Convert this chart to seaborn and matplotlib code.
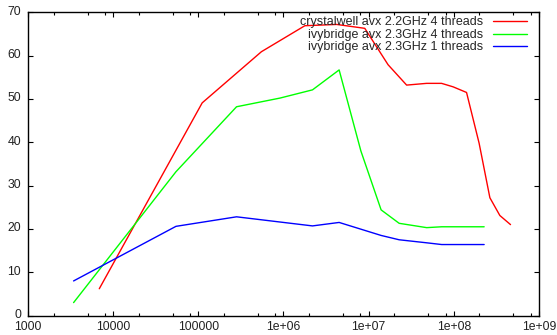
import matplotlib
matplotlib.use("Agg")
import matplotlib.pyplot as plt
import matplotlib.ticker as mticker
import matplotlib.transforms as mtransforms
import pandas as pd
import seaborn as sns

# series labels (as in the legend)
labels = [
    "crystalwell avx 2.2GHz 4 threads",
    "ivybridge avx 2.3GHz 4 threads",
    "ivybridge avx 2.3GHz 1 threads",
]

# crystalwell 4 threads
crystal_x = [6870, 111000, 550000, 1780000, 4200000, 9000000, 16900000, 27900000,
             47900000, 71800000, 98000000, 141000000, 198000000, 265000000,
             347000000, 463000000]
crystal_y = [6.2, 49.1, 60.9, 66.9, 67.2, 66.3, 57.9, 53.2,
             53.6, 53.6, 52.8, 51.5, 39.8, 27.2, 23.1, 21.0]

# ivybridge 4 threads
ivy4_x = [3430, 54600, 281000, 908000, 2190000, 4500000, 8100000, 14000000,
          22800000, 48000000, 72000000, 227000000]
ivy4_y = [3.0, 33.2, 48.2, 50.2, 52.1, 56.7, 38.0, 24.4, 21.3, 20.3, 20.5, 20.5]

# ivybridge 1 thread
ivy1_x = [3430, 54600, 281000, 2190000, 4500000, 14000000, 22800000,
          48000000, 72000000, 227000000]
ivy1_y = [8.0, 20.6, 22.8, 20.7, 21.5, 18.5, 17.5, 16.8, 16.4, 16.4]

x_ticks = [1e3, 1e4, 1e5, 1e6, 1e7, 1e8, 1e9]
x_ticklabels = ["1000", "10000", "100000", "1e+06", "1e+07", "1e+08", "1e+09"]
y_ticks = [0, 10, 20, 30, 40, 50, 60, 70]

colors = ["#ff0000", "#00ff00", "#0000ff"]

frames = []
for lab, xs, ys in zip(labels, [crystal_x, ivy4_x, ivy1_x], [crystal_y, ivy4_y, ivy1_y]):
    frames.append(pd.DataFrame({"n": xs, "val": ys, "series": lab}))
df = pd.concat(frames, ignore_index=True)

sns.set_style("ticks")
plt.rcParams["font.family"] = ["Liberation Sans", "DejaVu Sans"]

fig = plt.figure(figsize=(5.57, 3.35), dpi=100)
ax = fig.add_axes([28 / 557, 1 - 315.6 / 335, 511 / 557, 303.3 / 335])

sns.lineplot(data=df, x="n", y="val", hue="series", hue_order=labels,
             palette=colors, linewidth=1.0, ax=ax)

ax.set_xscale("log")
ax.set_xlim(1e3, 1e9)
ax.set_ylim(0, 70)
ax.set_xticks(x_ticks)
ax.set_xticklabels(x_ticklabels)
ax.xaxis.set_minor_locator(mticker.LogLocator(base=10, subs=(2, 5, 8)))
ax.xaxis.set_minor_formatter(mticker.NullFormatter())
ax.set_yticks(y_ticks)
ax.set_xlabel("")
ax.set_ylabel("")

ax.tick_params(which="both", direction="in", top=True, right=True,
               labelsize=8.8, colors="black", labelcolor="#222222")
ax.tick_params(which="major", length=3.6, width=0.8)
ax.tick_params(which="minor", length=2.2, width=0.8)
ax.tick_params(axis="x", pad=4)
ax.tick_params(axis="y", pad=5)
for s in ax.spines.values():
    s.set_linewidth(1.0)
    s.set_color("black")

# y labels sit a little above their ticks, as in gnuplot output
lift = mtransforms.ScaledTranslation(0, 1.5 / 72, fig.dpi_scale_trans)
for lbl in ax.get_yticklabels():
    lbl.set_transform(lbl.get_transform() + lift)

ax.legend(frameon=False, markerfirst=False, loc="upper right",
          bbox_to_anchor=(527 / 557, 1 - 16.5 / 335), bbox_transform=fig.transFigure,
          borderpad=0, borderaxespad=0, handlelength=2.7, handletextpad=0.8,
          labelspacing=0.03, fontsize=9)

fig.savefig("out.png", dpi=100)
